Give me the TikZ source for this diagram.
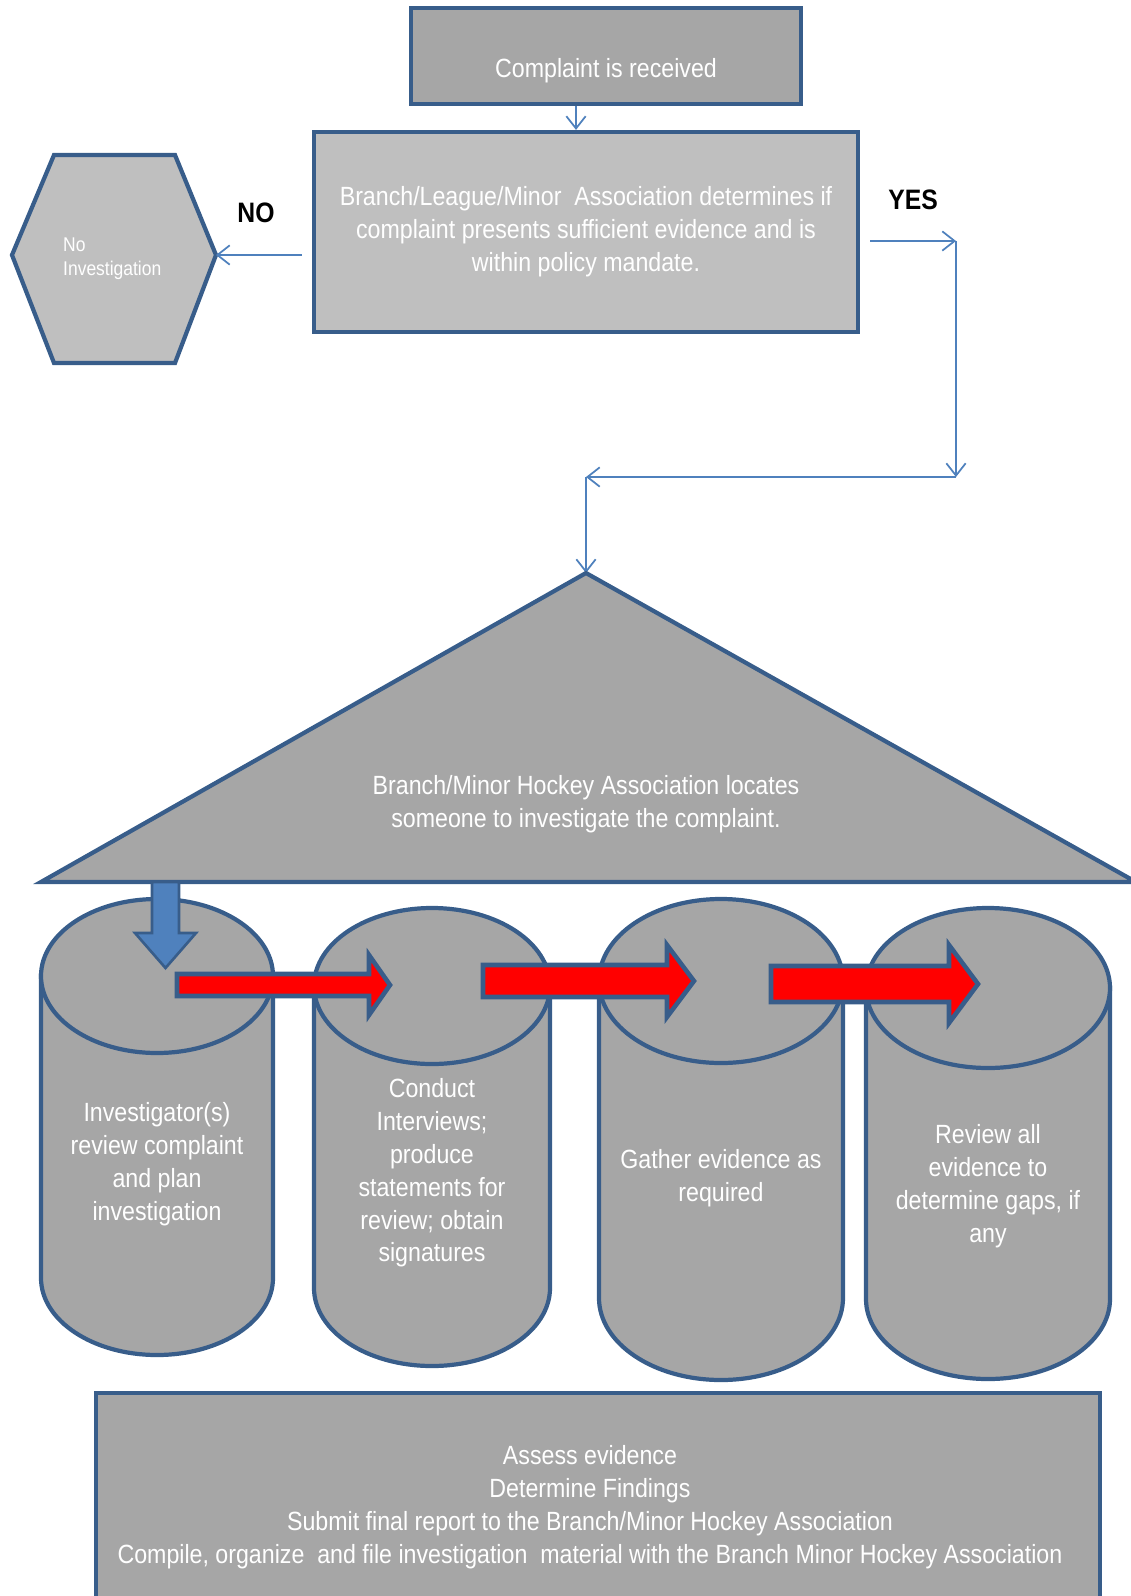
\documentclass[tikz,border=0pt]{standalone}
\usepackage{fontspec}
\setmainfont{Liberation Sans}[FakeStretch=0.88]
\usetikzlibrary{arrows.meta}
\definecolor{boxgray}{HTML}{A6A6A6}
\definecolor{palegray}{HTML}{BFBFBF}
\definecolor{edgeblue}{HTML}{385D8A}
\definecolor{linkblue}{HTML}{4F81BD}
\begin{document}
\begin{tikzpicture}[x=0.02cm,y=-0.02cm,
        >={Straight Barb[length=7pt,width=11pt]},
        outline/.style={draw=edgeblue,line width=2.4pt},
        box/.style={outline,rectangle,fill=boxgray,inner sep=0pt},
        link/.style={draw=linkblue,line width=1pt,->},
        txt/.style={text=white,align=center,font=\fontsize{15}{18.7}\selectfont},
        tag/.style={font=\bfseries\fontsize{16}{18}\selectfont}]
        \useasboundingbox (0,0) rectangle (1131,1596);

        % top of the flow
        \node[box,minimum width=7.8cm,minimum height=1.92cm] (complaint) at (606,56) {};
        \node[txt] (complainttxt) at (606,71) {Complaint is received};
        \node[box,fill=palegray,minimum width=10.88cm,minimum height=4cm,txt] (decide) at (586,232)
          {Branch/League/Minor\ \ Association determines if\\complaint presents sufficient evidence and is\\within policy mandate.};

        % no investigation
        \draw[outline,fill=palegray] (54,155) -- (175,155) -- (216,255) -- (175,363) -- (54,363) -- (12,255) -- cycle;
        \coordinate (hexR) at (216,255);
        \node[anchor=west,text=white,align=left,font=\fontsize{11.3}{13.6}\selectfont] (noinv) at (57,259) {No\\Investigation};
        \node[tag] (no) at (256,213) {NO};
        \node[tag] (yes) at (913,200) {YES};

        \draw[link] ([shift={(-30,0)}]complaint.south) -- ([shift={(-10,0)}]decide.north);
        \draw[link] ([shift={(-10,23)}]decide.west) -- (hexR);
        \coordinate (turnA) at (956,241);
        \coordinate (turnB) at (956,477);
        \coordinate (turnC) at (586,477);
        \coordinate (apex) at (586,573);
        \draw[link] ([shift={(10,9)}]decide.east) -- (turnA);
        \draw[link] (turnA) -- (turnB);
        \draw[link] (turnB) -- (turnC);
        \draw[link] (turnC) -- (apex);

        % locate an investigator
        \draw[outline,fill=boxgray] (apex) -- (41,882) -- (1136,882) -- cycle;
        \node[txt] (locate) at (586,804) {Branch/Minor Hockey Association locates\\someone to investigate the complaint.};

        % cylinders
        \foreach \cx/\rx/\ty/\ry/\by in {157/116/976/77/1278, 432/118/986/78/1288, 721/122/981/82/1298, 988/122/988/80/1299} {
          \draw[outline,fill=boxgray] (\cx-\rx,\ty) -- (\cx-\rx,\by) arc[start angle=180,end angle=0,x radius=\rx,y radius=\ry] -- (\cx+\rx,\ty) -- cycle;
          \draw[outline,fill=boxgray] (\cx,\ty) ellipse [x radius=\rx,y radius=\ry];
        }
        \node[txt] (review) at (157,1164) {Investigator(s)\\review complaint\\and plan\\investigation};
        \node[txt] (interview) at (432,1173) {Conduct\\Interviews;\\produce\\statements for\\review; obtain\\signatures};
        \node[txt] (gather) at (721,1178) {Gather evidence as\\required};
        \node[txt] (gaps) at (988,1186) {Review all\\evidence to\\determine gaps, if\\any};

        % arrows between the steps
        \foreach \xa/\xb/\xc/\yc/\hs/\hh in {177/369/390/985/11/30, 483/667/694/981/16/36, 771/949/978/984/18/39} {
          \draw[outline,line width=2.6pt,fill=red,line join=miter] (\xa,\yc-\hs) -- (\xb,\yc-\hs) -- (\xb,\yc-\hh) -- (\xc,\yc)
            -- (\xb,\yc+\hh) -- (\xb,\yc+\hs) -- (\xa,\yc+\hs) -- cycle;
        }
        \draw[outline,line width=1.5pt,fill=linkblue] (152,882) -- (179,882) -- (179,933) -- (196,933) -- (165.5,968)
          -- (135,933) -- (152,933) -- cycle;

        % final report
        \node[box,minimum width=20.08cm,minimum height=4.1cm] (report) at (598,1495.5) {};
        \node[txt] (findings) at (590,1507) {Assess evidence\\Determine Findings\\Submit final report to the Branch/Minor Hockey Association\\Compile, organize\ \ and file investigation\ \ material with the Branch Minor Hockey Association};
\end{tikzpicture}
\end{document}
